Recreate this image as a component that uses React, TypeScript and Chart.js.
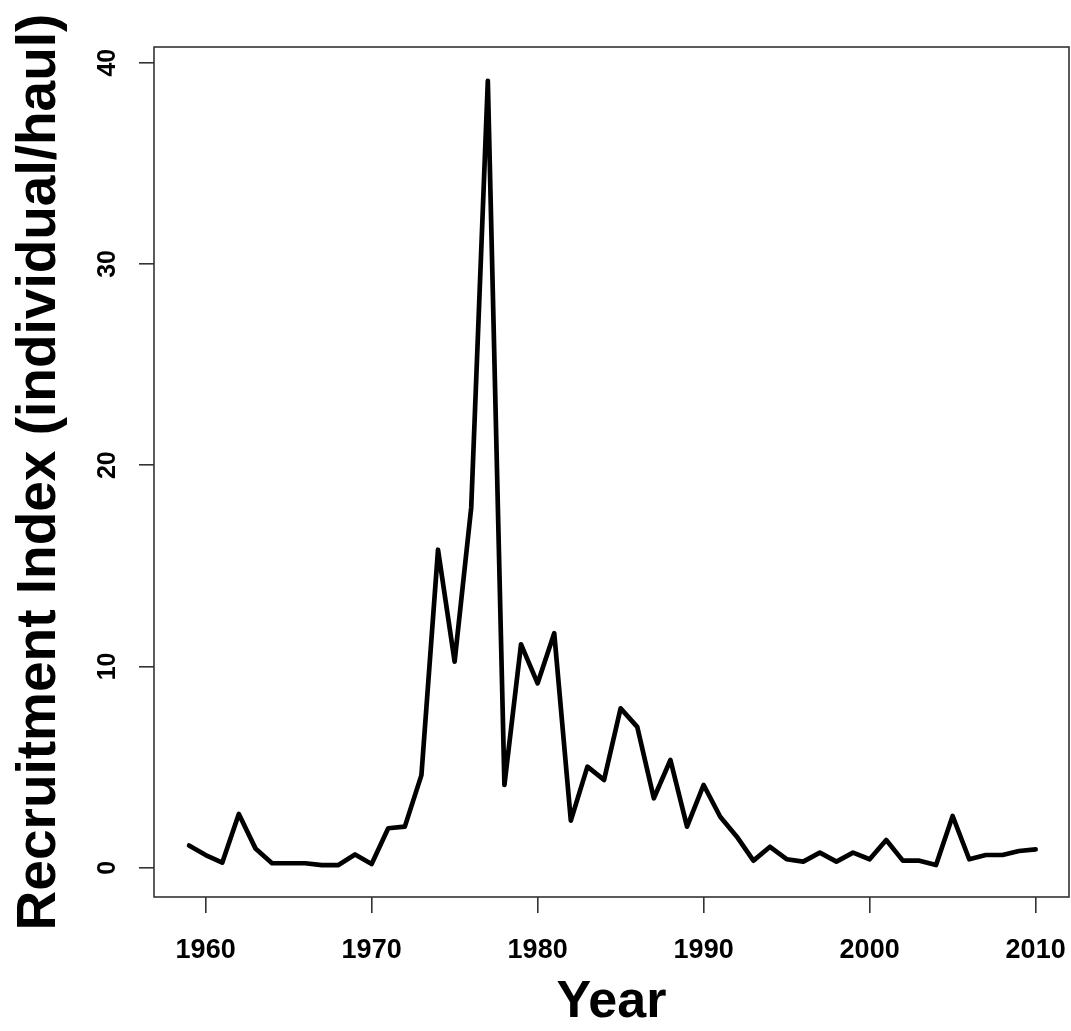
import React, { useEffect, useRef } from "react";
import { Chart, registerables } from "chart.js";

Chart.register(...registerables);

const years = [
  1959, 1960, 1961, 1962, 1963, 1964, 1965, 1966, 1967, 1968, 1969,
  1970, 1971, 1972, 1973, 1974, 1975, 1976, 1977, 1978, 1979,
  1980, 1981, 1982, 1983, 1984, 1985, 1986, 1987, 1988, 1989,
  1990, 1991, 1992, 1993, 1994, 1995, 1996, 1997, 1998, 1999,
  2000, 2001, 2002, 2003, 2004, 2005, 2006, 2007, 2008, 2009, 2010,
];

const recruitment = [
  1.1, 0.63, 0.25, 2.67, 0.96, 0.22, 0.22, 0.22, 0.13, 0.13, 0.66,
  0.18, 1.96, 2.04, 4.6, 15.8, 10.24, 17.9, 39.1, 4.11, 11.1,
  9.16, 11.65, 2.34, 5.02, 4.36, 7.92, 7.0, 3.45, 5.35, 2.04,
  4.11, 2.53, 1.54, 0.35, 1.04, 0.42, 0.3, 0.75, 0.3, 0.75,
  0.42, 1.38, 0.35, 0.35, 0.13, 2.57, 0.42, 0.63, 0.63, 0.83, 0.91,
];

const xTicks = [1960, 1970, 1980, 1990, 2000, 2010];
const yTicks = [0, 10, 20, 30, 40];

const xTitle = "Year";
const yTitle = "Recruitment Index (individual/haul)";

const FONT = "'Liberation Sans', Arial, Helvetica, sans-serif";

const boxPlugin = {
  id: "plotBox",
  afterDraw(chart: any) {
    const { ctx, chartArea } = chart;
    ctx.save();
    ctx.strokeStyle = "#333333";
    ctx.lineWidth = 1.6;
    ctx.strokeRect(
      chartArea.left,
      chartArea.top,
      chartArea.right - chartArea.left,
      chartArea.bottom - chartArea.top
    );
    ctx.restore();
  },
};

export default function App() {
  const canvasRef = useRef<HTMLCanvasElement | null>(null);

  useEffect(() => {
    const canvas = canvasRef.current;
    if (!canvas) return;
    const chart = new Chart(canvas, {
      type: "line",
      data: {
        datasets: [
          {
            data: years.map((y, i) => ({ x: y, y: recruitment[i] })),
            borderColor: "#000000",
            borderWidth: 4.7,
            pointRadius: 0,
            tension: 0,
            fill: false,
            borderJoinStyle: "round",
            borderCapStyle: "round",
          },
        ],
      },
      options: {
        responsive: false,
        animation: false,
        events: [],
        layout: { padding: { top: 47, right: 2, left: 0, bottom: 0 } },
        plugins: {
          legend: { display: false },
          tooltip: { enabled: false },
        },
        scales: {
          x: {
            type: "linear",
            min: 1956.89,
            max: 2012.01,
            afterBuildTicks: (scale: any) => {
              scale.ticks = xTicks.map((v) => ({ value: v }));
            },
            afterFit: (scale: any) => {
              scale.height = 134;
              scale.paddingLeft = 0;
              scale.paddingRight = 0;
            },
            border: { display: false },
            grid: {
              drawOnChartArea: false,
              drawTicks: true,
              tickLength: 16,
              color: "#333333",
              lineWidth: 1.6,
            },
            ticks: {
              color: "#000000",
              padding: 21,
              maxRotation: 0,
              autoSkip: false,
              font: { family: FONT, size: 27, weight: "bold" },
              callback: (v: any) => String(v),
            },
            title: {
              display: true,
              text: xTitle,
              color: "#000000",
              padding: { top: 0, bottom: 2 },
              font: { family: FONT, size: 52, weight: "bold", lineHeight: 1 },
            },
          },
          y: {
            type: "linear",
            min: -1.456,
            max: 40.78,
            afterBuildTicks: (scale: any) => {
              scale.ticks = yTicks.map((v) => ({ value: v }));
            },
            afterFit: (scale: any) => {
              scale.width = 154;
              scale.paddingTop = 0;
              scale.paddingBottom = 0;
            },
            border: { display: false },
            grid: {
              drawOnChartArea: false,
              drawTicks: true,
              tickLength: 15,
              color: "#333333",
              lineWidth: 1.6,
            },
            ticks: {
              color: "#000000",
              padding: 17,
              minRotation: 90,
              maxRotation: 90,
              crossAlign: "center",
              autoSkip: false,
              font: { family: FONT, size: 25, weight: "bold" },
              callback: (v: any) => String(v),
            },
            title: {
              display: true,
              text: yTitle,
              color: "#000000",
              padding: { top: 12, bottom: 0 },
              font: { family: FONT, size: 55, weight: "bold", lineHeight: 1 },
            },
          },
        },
      },
      plugins: [boxPlugin],
    });
    return () => chart.destroy();
  }, []);

  return (
    <div
      style={{
        position: "fixed",
        left: 0,
        top: 0,
        width: 1071,
        height: 1031,
        background: "#ffffff",
      }}
    >
      <canvas
        ref={canvasRef}
        width={1071}
        height={1031}
        style={{ display: "block", width: 1071, height: 1031 }}
      />
    </div>
  );
}
